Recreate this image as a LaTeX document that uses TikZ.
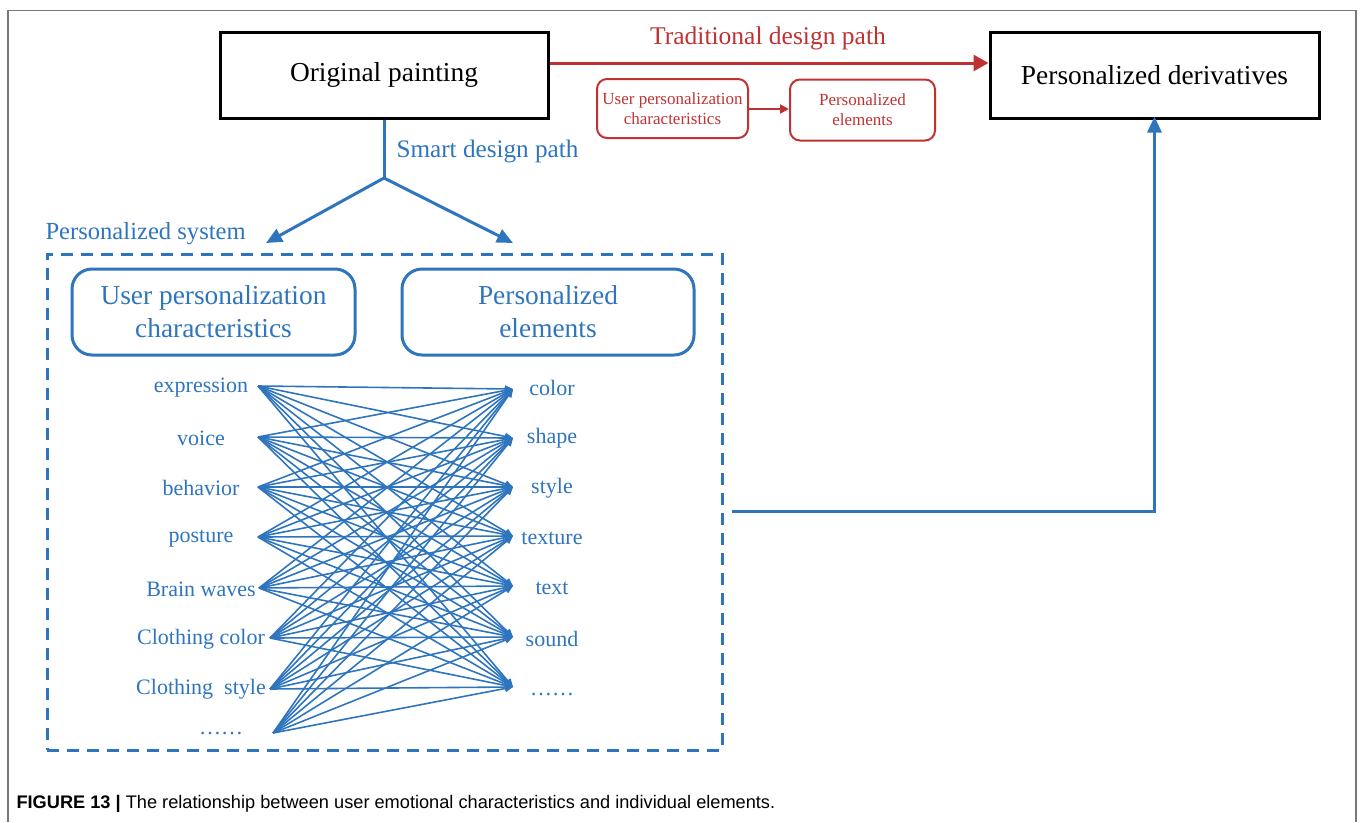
\documentclass[tikz,border=0pt]{standalone}
\usepackage{fontspec}
\setmainfont{Liberation Serif}
\newfontfamily\capfont{Liberation Sans}
\usetikzlibrary{arrows.meta}
\definecolor{pathblue}{RGB}{46,117,190}
\definecolor{pathred}{RGB}{192,50,50}
\definecolor{framegray}{RGB}{120,120,120}
\tikzset{
  mainbox/.style={draw=black, line width=3pt, minimum height=86pt, font=\fontsize{27.4}{30}\selectfont},
  redbox/.style={draw=pathred, line width=2pt, rounded corners=10pt, text=pathred, align=center, minimum height=60pt, font=\fontsize{17}{20}\selectfont},
  bluebox/.style={draw=pathblue, line width=3pt, rounded corners=20pt, text=pathblue, align=center, minimum height=86pt, font=\fontsize{27.4}{33}\selectfont},
  item/.style={text=pathblue, font=\fontsize{22}{24}\selectfont},
  link/.style={draw=pathblue, line width=1.6pt, -{Triangle[length=8pt,width=7pt]}},
  bluearrow/.style={draw=pathblue, line width=3pt, -{Triangle[length=16pt,width=14pt]}},
  redarrow/.style={draw=pathred, line width=3pt, -{Triangle[length=15pt,width=16pt]}},
}
\begin{document}
\begin{tikzpicture}[x=1pt, y=-1pt]
      \useasboundingbox (0,0) rectangle (1362,822);
      % frame and caption
      \draw[framegray, line width=1.5pt] (8,822) -- (8,10.5) -- (1356,10.5) -- (1356,822);
      \node[anchor=west, font=\capfont\fontsize{18.2}{20}\selectfont] (caption) at (13,804)
        {\textbf{FIGURE 13 |} The relationship between user emotional characteristics and individual elements.};
      % top row
      \node[mainbox, minimum width=328pt] (orig) at (384,75) {Original painting};
      \node[mainbox, minimum width=329pt] (deriv) at (1154.5,75) {Personalized derivatives};
      \draw[redarrow] ([yshift=12pt]orig.east) -- ([yshift=12pt]deriv.west);
      \node[text=pathred, font=\fontsize{25.5}{28}\selectfont] (trad) at (768,38) {Traditional design path};
      \node[redbox, minimum width=151pt, minimum height=59pt] (ured) at (672.5,108.5) {User personalization\\characteristics};
      \node[redbox, minimum width=145pt, minimum height=61pt] (ered) at (862.5,110) {Personalized\\elements};
      \draw[draw=pathred, line width=2pt, -{Triangle[length=9pt,width=9pt]}] (ured.east |- 0,109) -- (ered.west |- 0,109);
      % smart design path
      \coordinate (split) at (384,178);
      \coordinate (tipl) at (266,243);
      \coordinate (tipr) at (513,243);
      \draw[draw=pathblue, line width=3pt] (orig.south) -- (split);
      \node[anchor=west, text=pathblue, font=\fontsize{25.2}{28}\selectfont] (smart) at (393,151) {Smart design path};
      \draw[bluearrow] (split) -- (tipl);
      \draw[bluearrow] (split) -- (tipr);
      % personalized system
      \node[anchor=west, text=pathblue, font=\fontsize{24.6}{27}\selectfont] (syslabel) at (42,234) {Personalized system};
      \node[draw=pathblue, line width=3pt, dash pattern=on 12pt off 8pt, minimum width=675pt, minimum height=496pt] (sys) at (384.5,502) {};
      \node[bluebox, minimum width=283pt] (ubox) at (213.5,312) {User personalization\\characteristics};
      \node[bluebox, minimum width=292pt] (ebox) at (548,312) {Personalized\\elements};
      \draw[bluearrow] ([shift={(8,9)}]sys.east) -| ([yshift=3pt]deriv.south);
      % features
      \node[item] (l1) at (201,388) {expression};
      \node[item] (l2) at (201,438) {voice};
      \node[item] (l3) at (201,488) {behavior};
      \node[item] (l4) at (201,539) {posture};
      \node[item] (l5) at (201,589) {Brain waves};
      \node[item] (l6) at (201,639) {Clothing color};
      \node[item] (l7) at (201,689) {Clothing\ \ style};
      \node[item] (l8) at (221,734) {……};
      \node[item] (r1) at (552,388) {color};
      \node[item] (r2) at (552,438) {shape};
      \node[item] (r3) at (552,488) {style};
      \node[item] (r4) at (552,538) {texture};
      \node[item] (r5) at (552,588) {text};
      \node[item] (r6) at (552,639) {sound};
      \node[item] (r7) at (552,695) {……};
      \coordinate (a1) at (258,386);
      \coordinate (a2) at (258,437);
      \coordinate (a3) at (258,487);
      \coordinate (a4) at (258,537);
      \coordinate (a5) at (259,588);
      \coordinate (a6) at (270,638);
      \coordinate (a7) at (270,689);
      \coordinate (a8) at (273,733);
      \coordinate (b1) at (513,389);
      \coordinate (b2) at (513,438);
      \coordinate (b3) at (513,487);
      \coordinate (b4) at (513,536);
      \coordinate (b5) at (513,586);
      \coordinate (b6) at (513,637);
      \coordinate (b7) at (513,687);
      \foreach \i in {1,...,8}
        \foreach \j in {1,...,7}
          \draw[link] (a\i) -- (b\j);
    \end{tikzpicture}
\end{document}
